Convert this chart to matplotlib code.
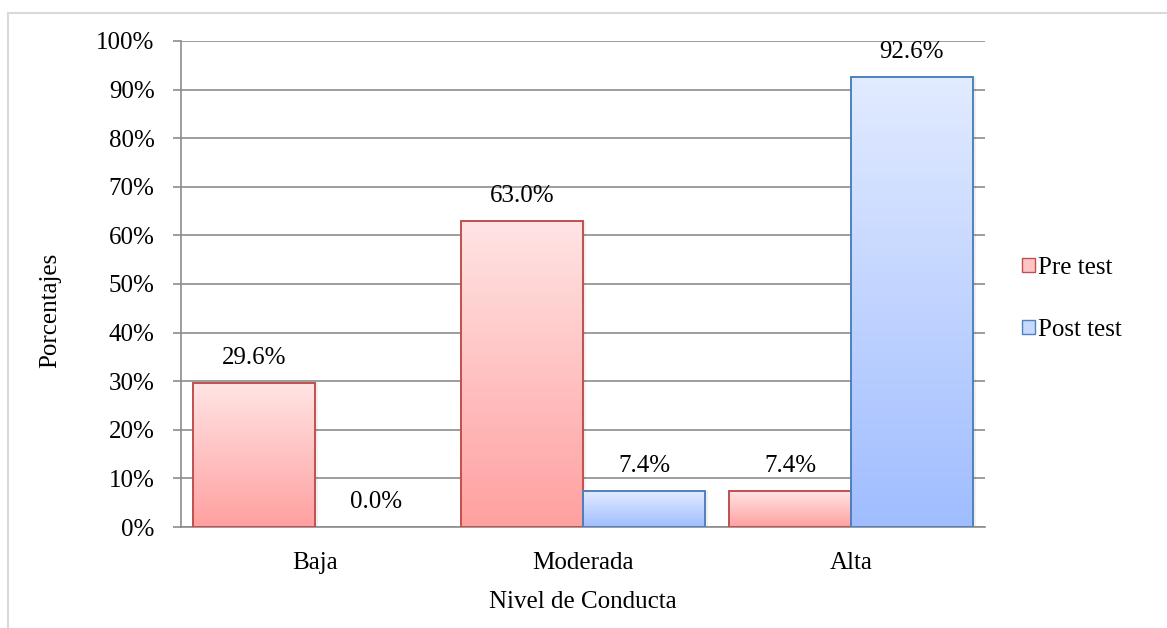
import numpy as np
import matplotlib.pyplot as plt
from matplotlib.patches import Rectangle
from matplotlib.colors import LinearSegmentedColormap

categories = ['Baja', 'Moderada', 'Alta']
pre_test = [29.6, 63.0, 7.4]
post_test = [0.0, 7.4, 92.6]
y_ticks = [0, 10, 20, 30, 40, 50, 60, 70, 80, 90, 100]

plt.rcParams['font.family'] = ['Liberation Serif', 'DejaVu Serif']
FS = 18

fig = plt.figure(figsize=(11.67, 6.28), dpi=100)
fig.patches.append(Rectangle((8 / 1167, -0.05), 1.1, 1 - 13 / 628 + 0.05,
                             transform=fig.transFigure, fill=False,
                             edgecolor='#d9d9d9', linewidth=1.5))
ax = fig.add_axes([181 / 1167, 1 - 527 / 628, 804 / 1167, 486 / 628])

pre_cmap = LinearSegmentedColormap.from_list('pre', ['#ffa0a0', '#ffe4e4'])
post_cmap = LinearSegmentedColormap.from_list('post', ['#a0bdff', '#e2ebff'])
grad = np.linspace(0, 1, 256).reshape(-1, 1)

width = 0.455
x = np.arange(len(categories))


def draw_bars(xs, vals, cmap, edge):
    for x0, v in zip(xs, vals):
        if v <= 0:
            continue
        left = x0 - width / 2
        ax.add_patch(Rectangle((left, 0), width, v, facecolor='none',
                               edgecolor=edge, linewidth=1.4, zorder=4))
        # soft shadow
        ax.add_patch(Rectangle((left + 0.012, 0), width, v, facecolor='#000000',
                               alpha=0.06, edgecolor='none', zorder=2))
        ax.imshow(grad, cmap=cmap, origin='lower', aspect='auto',
                  extent=[left, left + width, 0, v], zorder=3)


draw_bars(x - width / 2, pre_test, pre_cmap, '#c0504d')
draw_bars(x + width / 2, post_test, post_cmap, '#4f81bd')

for xi, v in zip(x - width / 2, pre_test):
    ax.text(xi, v + 3.9, '{:.1f}%'.format(v), ha='center', va='baseline',
            fontsize=FS)
for xi, v in zip(x + width / 2, post_test):
    ax.text(xi, v + 3.9, '{:.1f}%'.format(v), ha='center', va='baseline',
            fontsize=FS)

ax.set_xlim(-0.5, 2.5)
ax.set_ylim(0, 100)
ax.set_yticks(y_ticks)
ax.set_yticklabels(['{}%'.format(t) for t in y_ticks], fontsize=FS)
ax.set_xticks(x)
ax.set_xticklabels(categories, fontsize=FS)
ax.tick_params(axis='x', length=0, pad=18)
ax.tick_params(axis='y', length=6, width=1.2, color='#8c8c8c', pad=13)
ax.yaxis.grid(True, color='#8c8c8c', linewidth=1.2, zorder=1)
ax.set_axisbelow(True)
for side in ['top', 'right']:
    ax.spines[side].set_visible(False)
ax.spines['left'].set_color('#8c8c8c')
ax.spines['bottom'].set_color('#8c8c8c')
ax.spines['left'].set_linewidth(1.2)
ax.spines['bottom'].set_linewidth(1.2)

fig.text(50 / 1167, 1 - 310 / 628, 'Porcentajes', rotation=90, ha='center',
         va='center', fontsize=FS)
ax.set_xlabel('Nivel de Conducta', fontsize=FS, labelpad=12)

handles = [Rectangle((0, 0), 1, 1, facecolor='#ffc4c4', edgecolor='#c0504d'),
           Rectangle((0, 0), 1, 1, facecolor='#c8d9ff', edgecolor='#4f81bd')]
fig.legend(handles, ['Pre test', 'Post test'], loc='center left',
           bbox_to_anchor=(1022 / 1167, 1 - 299 / 628), frameon=False,
           fontsize=FS, handlelength=0.5, handleheight=0.5,
           handletextpad=0.15, labelspacing=1.6, borderpad=0, borderaxespad=0)

fig.savefig('out.png', dpi=100)
